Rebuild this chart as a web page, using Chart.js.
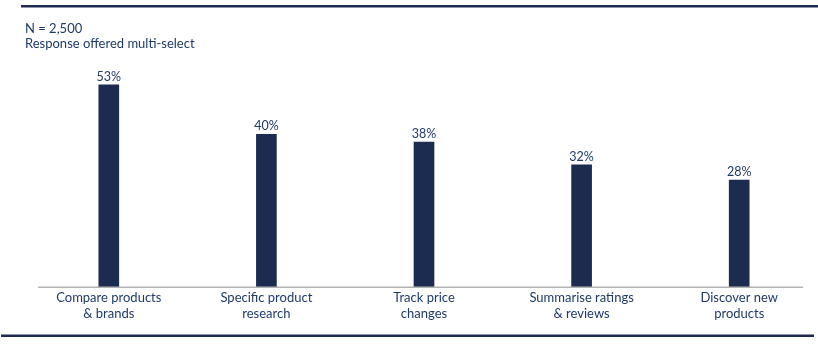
<!DOCTYPE html>
<html>
<head>
<meta charset="utf-8">
<script src="https://cdn.jsdelivr.net/npm/chart.js@4"></script>
<style>
  html, body { margin: 0; padding: 0; background: #ffffff; }
  #wrap { position: relative; width: 818px; height: 346px; }
</style>
</head>
<body>
<div id="wrap"><canvas id="myChart" width="818" height="346"></canvas></div>
<script>
// Данные диаграммы
const categories = [
    ['Compare products', '& brands'],
    ['Specific product', 'research'],
    ['Track price', 'changes'],
    ['Summarise ratings', '& reviews'],
    ['Discover new', 'products']
];
const shares = [53, 40, 38, 32, 28];
const noteLines = ['N = 2,500', 'Response offered multi-select'];

const navy = '#1c2b50';
const textBlue = '#1f3a6a';
const fontFamily = 'Lato, "Open Sans", sans-serif';

// Рамка сверху/снизу, базовая линия, подпись и проценты над столбцами
const decorPlugin = {
    id: 'decor',
    afterDraw(chart) {
        const c = chart.ctx;
        const area = chart.chartArea;
        c.save();
        c.fillStyle = navy;
        c.fillRect(21, 5, 797, 2.5);
        c.fillRect(1, 334.5, 813, 2.5);

        c.fillStyle = '#b3b3b3';
        c.fillRect(38, area.bottom - 0.5, 765, 1.5);

        c.fillStyle = textBlue;
        c.font = '13px ' + fontFamily;
        c.textAlign = 'left';
        c.textBaseline = 'alphabetic';
        c.fillText(noteLines[0], 25, 33);
        c.fillText(noteLines[1], 25, 48);

        const meta = chart.getDatasetMeta(0);
        c.font = '12.5px ' + fontFamily;
        c.textAlign = 'center';
        meta.data.forEach((bar, i) => {
            c.fillText(shares[i] + '%', bar.x, bar.y - 4);
        });
        c.restore();
    }
};

const ctx = document.getElementById('myChart').getContext('2d');
const chart = new Chart(ctx, {
    type: 'bar',
    data: {
        labels: categories,
        datasets: [{
            data: shares,
            backgroundColor: navy,
            barThickness: 20
        }]
    },
    options: {
        responsive: false,
        animation: false,
        layout: { padding: { left: 30, right: 0, top: 58, bottom: 0 } },
        plugins: {
            legend: { display: false },
            tooltip: { enabled: false }
        },
        scales: {
            y: {
                display: false,
                min: 0,
                max: 60
            },
            x: {
                grid: { display: false },
                border: { display: false },
                ticks: {
                    color: textBlue,
                    font: { family: fontFamily, size: 13, lineHeight: 1.22 },
                    padding: -5,
                    maxRotation: 0,
                    autoSkip: false
                },
                afterFit(scale) { scale.height = 59; }
            }
        }
    },
    plugins: [decorPlugin]
});
</script>
</body>
</html>
